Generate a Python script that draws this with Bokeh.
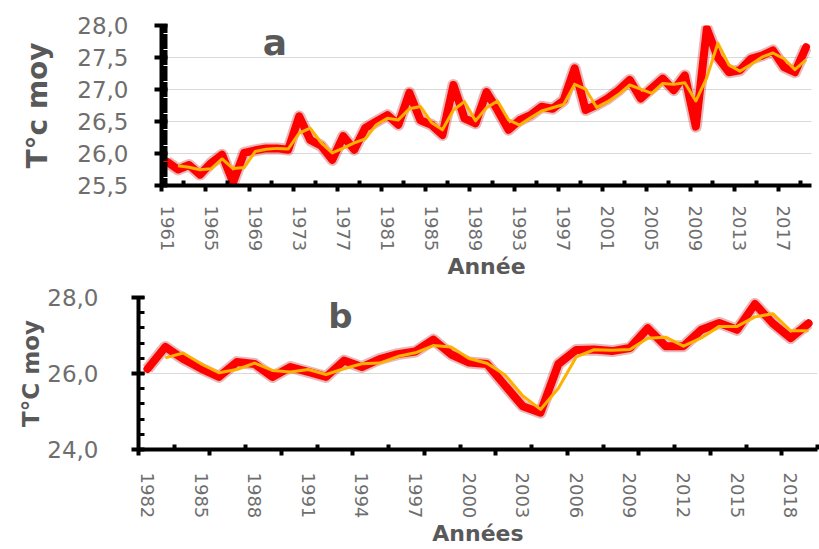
from bokeh.plotting import figure
from bokeh.models import (Range1d, FixedTicker, LinearAxis, CustomJSTickFormatter, Label,
                          CustomLabelingPolicy)
from bokeh.embed import file_html
from bokeh.resources import INLINE

# ---------------- data ----------------
years_a = list(range(1961, 2020))
temp_a = [25.87, 25.75, 25.82, 25.67, 25.85, 25.98, 25.55, 26.01, 26.05, 26.08,
          26.08, 26.06, 26.58, 26.21, 26.12, 25.90, 26.27, 26.06, 26.40, 26.50,
          26.60, 26.45, 26.95, 26.52, 26.45, 26.29, 27.07, 26.55, 26.47, 26.96,
          26.68, 26.37, 26.52, 26.60, 26.73, 26.70, 26.83, 27.33, 26.68, 26.76,
          26.86, 26.99, 27.15, 26.86, 27.02, 27.17, 26.99, 27.22, 26.42, 27.95,
          27.50, 27.27, 27.30, 27.48, 27.53, 27.61, 27.35, 27.27, 27.66]

years_b = list(range(1982, 2020))
temp_b = [26.12, 26.70, 26.38, 26.13, 25.91, 26.30, 26.25, 25.91, 26.17, 26.04,
          25.91, 26.34, 26.17, 26.38, 26.51, 26.58, 26.89, 26.50, 26.29, 26.25,
          25.69, 25.14, 24.97, 26.25, 26.62, 26.63, 26.59, 26.67, 27.19, 26.72,
          26.72, 27.15, 27.33, 27.15, 27.83, 27.32, 26.93, 27.32]

xlabels_a = [1961, 1965, 1969, 1973, 1977, 1981, 1985, 1989, 1993, 1997,
             2001, 2005, 2009, 2013, 2017]
xlabels_b = [1982, 1985, 1988, 1991, 1994, 1997, 2000, 2003, 2006, 2009,
             2012, 2015, 2018]
yticks_a = [25.5, 26.0, 26.5, 27.0, 27.5, 28.0]
yticks_b = [24.0, 26.0, 28.0]


def moving_avg2(vals):
    # Excel-style 2-period moving average trendline
    return [(a + b) / 2 for a, b in zip(vals[:-1], vals[1:])]


ma_a = moving_avg2(temp_a)
ma_b = moving_avg2(temp_b)

FONT = "DejaVu Sans"
TICK_COL = "#6e6e6e"
TITLE_COL = "#595959"
GRID_COL = "#D9D9D9"
RED = "#FF0000"
ORANGE = "#FFB000"

comma_fmt = CustomJSTickFormatter(code="return tick.toFixed(1).replace('.', ',')")
hide_all = CustomLabelingPolicy(code="for (const i of indices) { indices.unset(i) } return indices")


def style_panel(p, ticks_y, minors_y, y_title, y_title_size, x_bounds, x_labels, x_title,
                x_step, y_label_standoff, y_title_standoff, x_label_standoff, x_title_standoff):
    p.outline_line_color = None
    p.background_fill_color = "white"
    p.border_fill_color = "white"
    p.xgrid.visible = False
    p.ygrid.grid_line_color = GRID_COL
    p.ygrid.grid_line_width = 1

    # y axis
    ya = p.yaxis[0]
    ya.ticker = FixedTicker(ticks=ticks_y, minor_ticks=minors_y)
    ya.formatter = comma_fmt
    ya.axis_line_width = 4
    ya.axis_line_color = "black"
    ya.major_tick_line_width = 4
    ya.major_tick_in = 6
    ya.major_tick_out = 7
    ya.minor_tick_line_width = 3
    ya.minor_tick_in = 6
    ya.minor_tick_out = 0
    ya.major_label_text_font = FONT
    ya.major_label_text_font_size = "23px"
    ya.major_label_text_color = TICK_COL
    ya.major_label_standoff = y_label_standoff
    ya.axis_label = y_title
    ya.axis_label_text_font = FONT
    ya.axis_label_text_font_style = "bold"
    ya.axis_label_text_font_size = y_title_size
    ya.axis_label_text_color = TITLE_COL
    ya.axis_label_standoff = y_title_standoff

    # x axis: tick marks at category boundaries (no labels)
    x0, x1 = x_bounds
    majors = []
    v = x0
    while v <= x1 + 1e-9:
        majors.append(v)
        v += x_step
    minors = [m + x_step / 2 for m in majors if m + x_step / 2 <= x1 + 1e-9]
    xa = p.xaxis[0]
    xa.ticker = FixedTicker(ticks=majors, minor_ticks=minors)
    xa.axis_line_width = 4
    xa.axis_line_color = "black"
    xa.major_tick_line_width = 4
    xa.major_tick_in = 0
    xa.major_tick_out = 6
    xa.minor_tick_line_width = 4
    xa.minor_tick_in = 5
    xa.minor_tick_out = 0
    xa.major_label_policy = hide_all
    xa.major_label_text_font_size = "0px"
    xa.major_label_standoff = 0

    # x axis: labels at category centres
    la = LinearAxis(ticker=FixedTicker(ticks=x_labels))
    la.axis_line_color = None
    la.major_tick_line_color = None
    la.minor_tick_line_color = None
    la.major_tick_in = 0
    la.major_tick_out = 0
    la.minor_tick_in = 0
    la.minor_tick_out = 0
    la.major_label_orientation = "vertical"
    la.major_label_text_font = FONT
    la.major_label_text_font_size = "18px"
    la.major_label_text_color = TICK_COL
    la.major_label_standoff = x_label_standoff
    la.axis_label = x_title
    la.axis_label_text_font = FONT
    la.axis_label_text_font_style = "bold"
    la.axis_label_text_font_size = "22px"
    la.axis_label_text_color = TITLE_COL
    la.axis_label_standoff = x_title_standoff
    p.add_layout(la, "below")


def draw_series(p, years, temps, ma):
    p.line(years, temps, line_width=12, color="#B00000", alpha=0.28, line_join="round")
    p.line(years, temps, line_width=8, color=RED, line_join="round", line_cap="round")
    p.line(years[1:], ma, line_width=3, color=ORANGE, line_join="round")


# ---------------- panel a ----------------
p1 = figure(width=819, height=282,
            x_range=Range1d(1960.5, 2019.5), y_range=Range1d(25.5, 28.0),
            output_backend="svg", toolbar_location=None,
            min_border_left=161, min_border_right=8,
            min_border_top=25, min_border_bottom=95)
minor_a = [round(25.5 + 0.05 * i, 2) for i in range(51)]
style_panel(p1, yticks_a, minor_a, "T°c moy", "28px", (1960.5, 2019.5), xlabels_a, "Année", 4,
            26, 20, 14, 0)
draw_series(p1, years_a, temp_a, ma_a)
p1.add_layout(Label(x=1970.8, y=27.73, text="a", text_font=FONT, text_font_style="bold",
                    text_font_size="36px", text_color=TITLE_COL, text_align="center",
                    text_baseline="middle"))

# ---------------- panel b ----------------
p2 = figure(width=819, height=267,
            x_range=Range1d(1981.5, 2019.5), y_range=Range1d(24.0, 28.0),
            output_backend="svg", toolbar_location=None,
            min_border_left=138, min_border_right=2,
            min_border_top=15, min_border_bottom=96)
minor_b = [round(24.0 + 0.4 * i, 2) for i in range(11)]
style_panel(p2, yticks_b, minor_b, "T°C moy", "23px", (1981.5, 2019.5), xlabels_b, "Années", 4,
            33, 0, 17, 0)
draw_series(p2, years_b, temp_b, ma_b)
p2.add_layout(Label(x=1992.8, y=27.51, text="b", text_font=FONT, text_font_style="bold",
                    text_font_size="34px", text_color=TITLE_COL, text_align="center",
                    text_baseline="middle"))

# two independent roots, stacked, so that the plot frames are not aligned
open("out.html", "w").write(file_html([p1, p2], INLINE))
